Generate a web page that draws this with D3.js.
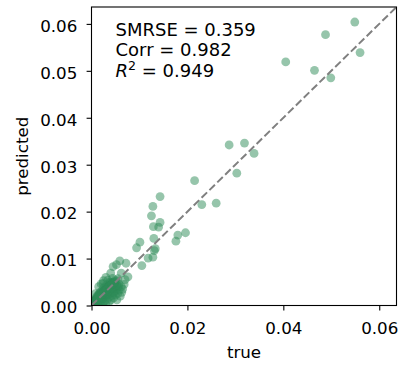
<!DOCTYPE html>
<html>
<head>
<meta charset="utf-8">
<script src="https://cdn.jsdelivr.net/npm/d3@7"></script>
<style>
  html, body { margin: 0; padding: 0; background: #fff; }
  svg { display: block; }
  text { font-family: "DejaVu Sans", sans-serif; fill: #000; }
</style>
</head>
<body>
<svg id="chart" width="402" height="366"></svg>
<script>
// ---- data ----
const trueVals = [
  0.0405, 0.0488, 0.0549, 0.0560, 0.0465, 0.0499,
  0.0287, 0.0319, 0.0339, 0.0303, 0.0260,
  0.0215, 0.0230,
  0.0143, 0.0128, 0.0125, 0.0143, 0.0129, 0.0140,
  0.0196, 0.0180, 0.0176, 0.0130, 0.0101, 0.0094,
  0.0133, 0.0131, 0.0128, 0.0118, 0.0105, 0.0072, 0.0059, 0.0052,
  0.0045, 0.0040, 0.0062, 0.0076, 0.0034, 0.0024, 0.0048,
  0.0002, 0.0004, 0.0005, 0.0007, 0.0008, 0.0009, 0.0010, 0.0011, 0.0012, 0.0013,
  0.0014, 0.0015, 0.0016, 0.0017, 0.0018, 0.0019, 0.0020, 0.0021, 0.0022, 0.0023,
  0.0024, 0.0025, 0.0026, 0.0027, 0.0028, 0.0029, 0.0030, 0.0031, 0.0032, 0.0033,
  0.0034, 0.0035, 0.0036, 0.0037, 0.0038, 0.0039, 0.0040, 0.0041, 0.0042, 0.0043,
  0.0044, 0.0045, 0.0046, 0.0047, 0.0048, 0.0050, 0.0051, 0.0052, 0.0053, 0.0054,
  0.0055, 0.0057, 0.0058, 0.0060, 0.0062, 0.0063, 0.0065, 0.0068, 0.0070,
  0.0015, 0.0020, 0.0008, 0.0025, 0.0030,
  0.0003, 0.0006, 0.0009, 0.0012, 0.0014, 0.0017, 0.0019, 0.0022, 0.0024, 0.0027,
  0.0029, 0.0031, 0.0034, 0.0036, 0.0038, 0.0041, 0.0043, 0.0045, 0.0047, 0.0049,
  0.0010, 0.0016, 0.0021, 0.0026, 0.0032, 0.0037, 0.0042, 0.0046, 0.0050, 0.0056,
  0.0005, 0.0013, 0.0018, 0.0023, 0.0028, 0.0033, 0.0039, 0.0044,
  0.0006, 0.0011, 0.0015, 0.0020, 0.0025, 0.0030, 0.0035, 0.0040, 0.0045, 0.0050,
  0.0008, 0.0013, 0.0018, 0.0022, 0.0027, 0.0032, 0.0036, 0.0041, 0.0046, 0.0052,
  0.0004, 0.0010, 0.0016, 0.0021, 0.0026, 0.0031, 0.0038, 0.0043, 0.0048, 0.0055
];
const predictedVals = [
  0.0519, 0.0577, 0.0604, 0.0539, 0.0501, 0.0485,
  0.0342, 0.0346, 0.0324, 0.0282, 0.0218,
  0.0266, 0.0215,
  0.0232, 0.0211, 0.0191, 0.0177, 0.0168, 0.0167,
  0.0155, 0.0150, 0.0137, 0.0143, 0.0135, 0.0123,
  0.0121, 0.0117, 0.0103, 0.0101, 0.0085, 0.0090, 0.0095, 0.0087,
  0.0083, 0.0069, 0.0069, 0.0061, 0.0054, 0.0047, 0.0047,
  0.0001, 0.0003, 0.0008, 0.0004, 0.0012, 0.0006, 0.0002, 0.0015, 0.0009, 0.0004,
  0.0020, 0.0012, 0.0007, 0.0026, 0.0016, 0.0003, 0.0010, 0.0030, 0.0021, 0.0014,
  0.0006, 0.0038, 0.0025, 0.0017, 0.0010, 0.0033, 0.0002, 0.0043, 0.0022, 0.0013,
  0.0029, 0.0036, 0.0007, 0.0018, 0.0050, 0.0025, 0.0040, 0.0012, 0.0031, 0.0021,
  0.0058, 0.0035, 0.0016, 0.0027, 0.0044, 0.0022, 0.0032, 0.0052, 0.0012, 0.0039,
  0.0026, 0.0046, 0.0033, 0.0020, 0.0040, 0.0028, 0.0035, 0.0045, 0.0055,
  0.0040, 0.0046, 0.0025, 0.0053, 0.0060,
  0.0004, 0.0007, 0.0011, 0.0013, 0.0017, 0.0019, 0.0023, 0.0024, 0.0028, 0.0030,
  0.0034, 0.0035, 0.0039, 0.0041, 0.0043, 0.0045, 0.0049, 0.0051, 0.0038, 0.0042,
  0.0018, 0.0024, 0.0019, 0.0031, 0.0027, 0.0033, 0.0037, 0.0030, 0.0036, 0.0041,
  0.0010, 0.0022, 0.0028, 0.0016, 0.0037, 0.0024, 0.0047, 0.0029,
  0.0009, 0.0014, 0.0020, 0.0024, 0.0029, 0.0034, 0.0039, 0.0043, 0.0048, 0.0054,
  0.0005, 0.0011, 0.0015, 0.0019, 0.0023, 0.0027, 0.0031, 0.0036, 0.0040, 0.0044,
  0.0007, 0.0013, 0.0018, 0.0023, 0.0028, 0.0033, 0.0041, 0.0046, 0.0050, 0.0057
];
const xTicks = [0.00, 0.02, 0.04, 0.06];
const yTicks = [0.00, 0.01, 0.02, 0.03, 0.04, 0.05, 0.06];
const statLabels = ["SMRSE = 0.359", "Corr = 0.982"];
const r2Value = "0.949";
const axisMax = 0.0636;

// ---- layout ----
const mLeft = 91.5, mRight = 396.5, mTop = 7, mBottom = 305.5;
const svg = d3.select("#chart");

const x = d3.scaleLinear().domain([0, axisMax]).range([mLeft, mRight]);
const y = d3.scaleLinear().domain([0, axisMax]).range([mBottom, mTop]);

svg.append("defs").append("clipPath").attr("id", "plotclip")
  .append("rect").attr("x", mLeft).attr("y", mTop)
  .attr("width", mRight - mLeft).attr("height", mBottom - mTop);

const pts = trueVals.map((t, i) => ({ t, p: predictedVals[i] }));

svg.append("g").attr("clip-path", "url(#plotclip)")
  .selectAll("circle").data(pts).join("circle")
  .attr("cx", d => x(d.t))
  .attr("cy", d => y(d.p))
  .attr("r", 4.4)
  .attr("fill", "seagreen")
  .attr("fill-opacity", 0.5);

// identity line
svg.append("g").attr("clip-path", "url(#plotclip)")
  .append("line")
  .attr("x1", x(0)).attr("y1", y(0))
  .attr("x2", x(axisMax)).attr("y2", y(axisMax))
  .attr("stroke", "#808080")
  .attr("stroke-width", 2)
  .attr("stroke-dasharray", "7.7,3.3");

// axes
const fmt = d3.format(".2f");
const gx = svg.append("g").attr("transform", `translate(0,${mBottom})`)
  .call(d3.axisBottom(x).tickValues(xTicks).tickFormat(fmt).tickSize(4.9).tickSizeOuter(0));
const gy = svg.append("g").attr("transform", `translate(${mLeft},0)`)
  .call(d3.axisLeft(y).tickValues(yTicks).tickFormat(fmt).tickSize(4.9).tickSizeOuter(0));

[gx, gy].forEach(g => {
  g.select(".domain").remove();
  g.selectAll(".tick line").attr("stroke", "#000").attr("stroke-width", 1.1);
  g.selectAll(".tick text").attr("font-family", "DejaVu Sans").attr("font-size", "16.7px").attr("fill", "#000");
});
gx.selectAll(".tick text").attr("y", 28.8).attr("dy", null);
gy.selectAll(".tick text").attr("x", -14.2).attr("y", 7.3).attr("dy", null);

// frame
svg.append("rect")
  .attr("x", mLeft).attr("y", mTop)
  .attr("width", mRight - mLeft).attr("height", mBottom - mTop)
  .attr("fill", "none").attr("stroke", "#000").attr("stroke-width", 1.1);

// axis labels
svg.append("text").attr("x", (mLeft + mRight) / 2).attr("y", 358.3)
  .attr("text-anchor", "middle").attr("font-size", "16.7px").text("true");
svg.append("text")
  .attr("transform", `translate(27.5,${(mTop + mBottom) / 2}) rotate(-90)`)
  .attr("text-anchor", "middle").attr("font-size", "16.7px").text("predicted");

// stats annotation
const ann = svg.append("g").attr("font-size", "18px");
statLabels.forEach((s, i) => {
  ann.append("text").attr("x", 115.5).attr("y", 35.7 + i * 20.5).text(s);
});
const r2 = ann.append("text").attr("x", 115.5).attr("y", 76.7);
r2.append("tspan").attr("font-style", "italic").text("R");
r2.append("tspan").attr("font-size", "12.6px").attr("dy", -7).text("2");
r2.append("tspan").attr("dy", 7).text(" = " + r2Value);
</script>
</body>
</html>
